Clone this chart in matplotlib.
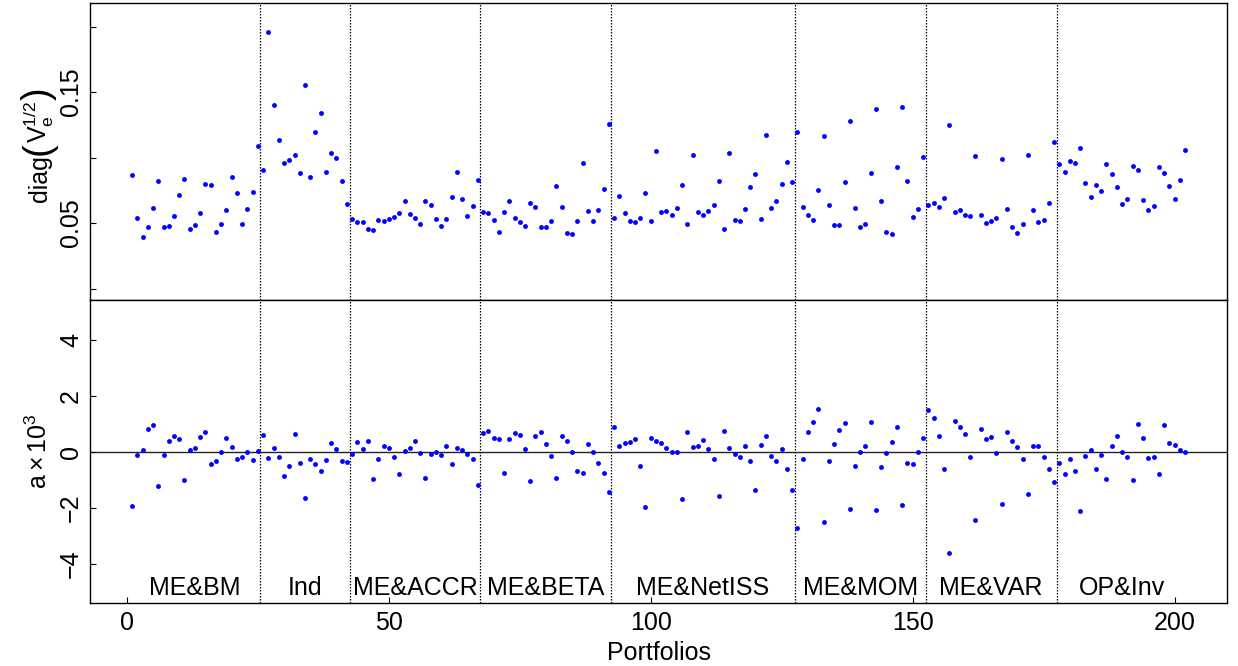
"""plot.py: residual scale and pricing errors for 202 test portfolios,
grouped by sort.
"""
import numpy as np
import matplotlib as mpl
mpl.use('Agg')
import matplotlib.pyplot as plt

groups = ['ME&BM', 'Ind', 'ME&ACCR', 'ME&BETA', 'ME&NetISS', 'ME&MOM',
          'ME&VAR', 'OP&Inv']
group_sizes = [25, 17, 25, 25, 35, 25, 25, 25]

# sqrt of diagonal of residual covariance, one value per portfolio
sd_bm = [0.0863, 0.0538, 0.0393, 0.0472, 0.0612, 0.0823, 0.0467, 0.0480,
         0.0556, 0.0716, 0.0833, 0.0454, 0.0487, 0.0579, 0.0800, 0.0790,
         0.0429, 0.0495, 0.0599, 0.0851, 0.0726, 0.0495, 0.0609, 0.0736,
         0.1087]
sd_ind = [0.0901, 0.1958, 0.1402, 0.1130, 0.0957, 0.0983, 0.1018, 0.0884,
          0.1552, 0.0851, 0.1196, 0.1338, 0.0889, 0.1033, 0.0993, 0.0823,
          0.0647]
sd_accr = [0.0528, 0.0505, 0.0508, 0.0454, 0.0449, 0.0523, 0.0518, 0.0528,
           0.0546, 0.0576, 0.0665, 0.0571, 0.0538, 0.0492, 0.0668, 0.0637,
           0.0530, 0.0477, 0.0530, 0.0698, 0.0889, 0.0680, 0.0551, 0.0632,
           0.0830]
sd_beta = [0.0586, 0.0574, 0.0525, 0.0434, 0.0581, 0.0665, 0.0536, 0.0510,
           0.0477, 0.0650, 0.0624, 0.0470, 0.0470, 0.0518, 0.0779, 0.0622,
           0.0424, 0.0414, 0.0515, 0.0960, 0.0591, 0.0515, 0.0599, 0.0759,
           0.1254]
sd_netiss = [0.0538, 0.0703, 0.0576, 0.0513, 0.0510, 0.0536, 0.0731, 0.0518,
             0.1046, 0.0584, 0.0594, 0.0561, 0.0612, 0.0792, 0.0490, 0.1016,
             0.0586, 0.0561, 0.0594, 0.0640, 0.0823, 0.0454, 0.1036, 0.0525,
             0.0513, 0.0607, 0.0774, 0.0876, 0.0530, 0.1173, 0.0614, 0.0665,
             0.0797, 0.0965, 0.0815]
sd_mom = [0.1193, 0.0619, 0.0564, 0.0525, 0.0751, 0.1163, 0.0637, 0.0482,
          0.0482, 0.0812, 0.1277, 0.0614, 0.0472, 0.0495, 0.0881, 0.1369,
          0.0670, 0.0431, 0.0416, 0.0929, 0.1384, 0.0823, 0.0546, 0.0609,
          0.1005]
sd_var = [0.0637, 0.0650, 0.0622, 0.0688, 0.1249, 0.0586, 0.0597, 0.0564,
          0.0556, 0.1008, 0.0564, 0.0500, 0.0515, 0.0536, 0.0985, 0.0604,
          0.0472, 0.0426, 0.0490, 0.1021, 0.0597, 0.0510, 0.0523, 0.0652,
          0.1115]
sd_opinv = [0.0947, 0.0889, 0.0975, 0.0955, 0.1072, 0.0807, 0.0698, 0.0790,
            0.0744, 0.0950, 0.0873, 0.0777, 0.0642, 0.0685, 0.0937, 0.0904,
            0.0675, 0.0602, 0.0632, 0.0929, 0.0884, 0.0779, 0.0680, 0.0830,
            0.1061]

# intercepts, times 1000
a_bm = [-1.92, -0.12, 0.05, 0.82, 0.94, -1.23, -0.12, 0.39, 0.55, 0.45,
        -1.01, 0.07, 0.14, 0.54, 0.69, -0.42, -0.33, -0.01, 0.50, 0.18,
        -0.24, -0.18, -0.01, -0.31, 0.02]
a_ind = [0.61, -0.21, 0.12, -0.18, -0.88, -0.52, 0.65, -0.39, -1.64, -0.27,
         -0.44, -0.70, -0.29, 0.32, 0.10, -0.33, -0.35]
a_accr = [-0.07, 0.36, 0.11, 0.40, -0.96, -0.25, 0.21, 0.15, -0.18, -0.80,
          0.04, 0.12, 0.40, -0.04, -0.92, -0.08, 0.01, -0.12, 0.19, -0.44,
          0.15, 0.08, -0.07, -0.26, -1.20]
a_beta = [0.67, 0.74, 0.51, 0.44, -0.76, 0.45, 0.67, 0.60, 0.10, -1.06,
          0.57, 0.69, 0.27, -0.15, -0.92, 0.55, 0.40, 0.01, -0.68, -0.76,
          0.29, -0.02, -0.40, -0.77, -1.43]
a_netiss = [0.90, 0.21, 0.32, 0.35, 0.46, -0.49, -1.96, 0.50, 0.39, 0.32,
            0.15, -0.01, -0.01, -1.69, 0.71, 0.17, 0.21, 0.42, 0.10, -0.27,
            -1.58, 0.73, 0.15, -0.07, -0.19, 0.19, -0.32, -1.35, 0.25, 0.55,
            -0.14, -0.32, 0.10, -0.62, -1.38]
a_mom = [-2.71, -0.24, 0.70, 1.06, 1.54, -2.49, -0.32, 0.27, 0.77, 1.02,
         -2.06, -0.49, 0.01, 0.19, 1.06, -2.08, -0.53, -0.06, 0.35, 0.88,
         -1.89, -0.40, -0.43, -0.01, 0.50]
a_var = [1.49, 1.19, 0.55, -0.62, -3.61, 1.10, 0.90, 0.64, -0.17, -2.45,
         0.82, 0.46, 0.54, -0.06, -1.86, 0.71, 0.40, 0.18, -0.24, -1.52,
         0.21, 0.19, -0.18, -0.63, -1.08]
a_opinv = [-0.39, -0.81, -0.26, -0.68, -2.13, -0.14, 0.05, -0.60, -0.13,
           -0.96, 0.19, 0.56, -0.01, -0.20, -1.02, 0.98, 0.51, -0.23, -0.19,
           -0.80, 0.96, 0.30, 0.24, 0.07, -0.02]

sd = np.concatenate([sd_bm, sd_ind, sd_accr, sd_beta, sd_netiss, sd_mom,
                     sd_var, sd_opinv])
alpha = np.concatenate([a_bm, a_ind, a_accr, a_beta, a_netiss, a_mom,
                        a_var, a_opinv])

mpl.rcParams.update({'font.family': 'Liberation Sans',
                     'mathtext.fontset': 'custom',
                     'mathtext.rm': 'Liberation Sans',
                     'mathtext.it': 'Liberation Sans:italic',
                     'font.size': 18,
                     'axes.linewidth': 1.0,
                     'xtick.direction': 'in',
                     'ytick.direction': 'in',
                     'xtick.major.size': 4,
                     'ytick.major.size': 4,
                     'xtick.major.pad': 6,
                     'ytick.major.pad': 5})

W, H = 1238, 666   # figure size in pixels at dpi 100


def vertical_label(fig, xpix, ymid, pieces):
    """Stack text pieces bottom-to-top along one baseline at x = xpix,
    centred on ymid (pixels from the top).  pieces = [(text, size, shift)]
    where shift moves a piece off the baseline (pixels, + is left)."""
    renderer = fig.canvas.get_renderer()
    placed = []
    for s, size, shift in pieces:
        t = fig.text(0, 0, s, fontsize=size, rotation=90,
                     rotation_mode='anchor', ha='left', va='baseline')
        w = t.get_window_extent(renderer).height
        placed.append((t, w, shift))
    total = sum(w for _, w, _ in placed)
    y = (H - ymid) - total / 2.0
    for t, w, shift in placed:
        t.set_position(((xpix - shift) / W, y / H))
        y += w


def main():
    n = len(sd)
    x = np.arange(1, n + 1)
    bounds = np.cumsum(group_sizes)[:-1] + 0.5
    starts = np.concatenate([[1], np.cumsum(group_sizes)[:-1] + 1])
    centers = starts + (np.array(group_sizes) - 1) / 2.0

    fig = plt.figure(figsize=(W / 100, H / 100), dpi=100)
    ax1 = fig.add_axes([0.0727, 0.5495, 0.9185, 0.4465])
    ax2 = fig.add_axes([0.0727, 0.0946, 0.9185, 0.4549], sharex=ax1)

    ax1.plot(x, sd, 'o', color='blue', ms=3.5, mec='none')
    ax1.set_ylim(-0.0088, 0.2182)
    ax1.set_yticks([0, 0.05, 0.10, 0.15, 0.20])
    ax1.set_yticklabels(['', '0.05', '', '0.15', ''], rotation=90,
                        va='center')
    ax1.tick_params(axis='x', bottom=False, labelbottom=False)

    ax2.plot(x, alpha, 'o', color='blue', ms=3.5, mec='none')
    ax2.axhline(0, color='#222222', lw=1.0, zorder=1)
    ax2.set_ylim(-5.4, 5.42)
    ax2.set_yticks([-4, -2, 0, 2, 4])
    ax2.set_yticklabels(['\u22124', '\u22122', '0', '2', '4'], rotation=90,
                        va='center')
    ax2.set_xlim(-7.04, 210.04)
    ax2.set_xticks([0, 50, 100, 150, 200])
    ax2.set_xlabel('Portfolios', labelpad=4)

    for ax in (ax1, ax2):
        for b in bounds:
            ax.axvline(b, color='black', lw=0.9, ls=(0, (1.2, 1.2)), zorder=1)
    for name, c in zip(groups, centers):
        ax2.text(c, -5.1, name, ha='center', va='baseline', fontsize=18)

    # y axis titles, with tall brackets round V_e^(1/2)
    vertical_label(fig, 47, 145,
                   [('diag', 18, 0),
                    ('(', 27, -2),
                    (r'$\mathrm{V}_{\mathrm{e}}^{1/2}$', 18, 0),
                    (')', 27, -2)])
    fig.text(47 / W, 1 - 451.6 / H, r'$\mathrm{a}\times\mathrm{10}^{3}$',
             rotation=90, rotation_mode='anchor', ha='center', va='baseline',
             fontsize=18)

    fig.savefig('out.png', dpi=100)
    return fig


if __name__ == '__main__':
    main()
